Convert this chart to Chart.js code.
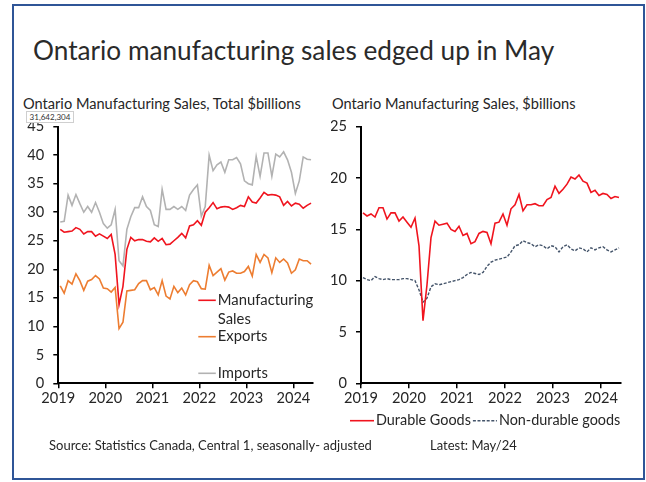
<!DOCTYPE html>
<html>
<head>
<meta charset="utf-8">
<title>Ontario manufacturing sales</title>
<script src="https://cdn.jsdelivr.net/npm/chart.js@4.4.1/dist/chart.umd.min.js"></script>
<style>
  html, body { margin: 0; padding: 0; background: #fff; }
  body { width: 646px; height: 482px; position: relative; overflow: hidden; font-family: Lato, sans-serif; color: #262626; }
  .frame { position: absolute; left: 12px; top: 4px; width: 629px; height: 472px; border: 2px solid #2f5597; }
  .txt { position: absolute; white-space: nowrap; line-height: 1; }
  #title { left: 33px; top: 36.8px; font-size: 26.2px; font-weight: 400; color: #2a2a2a; }
  .sub { top: 97.2px; font-size: 14.6px; }
  #valueTag { position: absolute; left: 26px; top: 111px; width: 46px; height: 10px; border: 1px solid #cfcfcf; background: #fff; font-size: 8px; line-height: 10px; text-align: center; color: #333; }
  .foot { top: 439.2px; font-size: 13px; }
  canvas { position: absolute; top: 0; }
  #leftChart { left: 0; }
  #rightChart { left: 323px; }
</style>
</head>
<body>
<div class="frame"></div>
<div id="title" class="txt">Ontario manufacturing sales edged up in May</div>
<div class="txt sub" style="left:23px">Ontario Manufacturing Sales, Total $billions</div>
<div class="txt sub" style="left:332px">Ontario Manufacturing Sales, $billions</div>
<canvas id="leftChart" width="323" height="482"></canvas>
<canvas id="rightChart" width="323" height="482"></canvas>
<div id="valueTag">31,642,304</div>
<div class="txt foot" style="left:49px">Source: Statistics Canada, Central 1, seasonally- adjusted</div>
<div class="txt foot" style="left:430px">Latest: May/24</div>

<script>
// Monthly, Jan 2019 - May 2024, $billions
const yearLabels = ['2019', '2020', '2021', '2022', '2023', '2024'];

const manufacturing = [
  27.0, 26.5, 26.6, 26.7, 27.3, 27.0, 26.2, 26.6, 26.6, 25.8, 26.2, 25.8,
  25.4, 26.1, 22.6, 13.8, 17.0, 23.5, 25.6, 25.0, 25.2, 25.2, 24.9, 24.8,
  25.5, 24.9, 25.4, 24.3, 24.4, 25.0, 25.6, 26.3, 25.5, 27.6, 27.8, 28.5,
  27.7, 30.0, 30.8, 31.7, 30.6, 30.9, 31.0, 30.9, 30.5, 30.8, 31.2, 31.0,
  32.7, 31.8, 31.6, 32.5, 33.5, 33.0, 33.1, 33.0, 32.7, 31.2, 31.9, 31.1,
  31.6, 31.4, 30.7, 31.2, 31.6
];
const exportSales = [
  17.1, 15.8, 18.0, 17.4, 19.2, 18.0, 16.3, 17.9, 18.2, 18.9, 18.3, 16.7,
  16.6, 16.0, 16.8, 9.6, 10.7, 16.2, 16.3, 16.4, 17.5, 18.0, 18.0, 16.4,
  16.8, 15.5, 18.0, 15.3, 14.8, 17.0, 15.9, 16.7, 15.5, 17.3, 18.0, 17.8,
  16.6, 16.5, 20.7, 18.9, 19.5, 20.1, 18.1, 19.5, 19.7, 19.3, 19.3, 19.6,
  20.5, 18.8, 22.6, 21.2, 22.6, 22.0, 19.4, 22.0, 21.2, 21.8, 21.1, 19.3,
  19.9, 21.8, 21.5, 21.5, 20.9
];
const importSales = [
  28.3, 28.4, 33.0, 31.2, 33.1, 31.5, 30.0, 31.0, 30.0, 31.7, 30.0, 28.0,
  27.2, 27.8, 30.5, 21.5, 20.6, 27.0, 29.2, 30.8, 30.8, 32.7, 31.0, 30.3,
  27.8, 27.5, 34.0, 30.5, 30.5, 31.0, 30.5, 31.0, 30.3, 33.0, 34.0, 34.8,
  29.3, 31.0, 40.0, 37.3, 38.3, 38.8, 37.0, 39.2, 39.2, 39.6, 38.5, 35.5,
  35.0, 34.8, 39.8, 36.3, 40.4, 40.4, 36.3, 40.2, 39.7, 40.6, 39.2, 37.0,
  33.3, 35.5, 39.7, 39.3, 39.2
];
const durableGoods = [
  16.6, 16.3, 16.5, 16.2, 17.1, 17.1, 16.0, 16.6, 16.6, 15.8, 16.2, 15.7,
  15.2, 16.1, 13.4, 6.1, 9.6, 14.2, 15.8, 15.4, 15.5, 15.6, 15.0, 14.8,
  15.3, 14.4, 14.6, 13.6, 13.8, 14.6, 14.8, 14.7, 13.6, 15.6, 15.7, 16.5,
  15.4, 17.0, 17.4, 18.4, 16.8, 17.4, 17.4, 17.5, 17.3, 17.3, 17.9, 18.1,
  19.2, 18.5, 18.9, 19.4, 20.1, 19.9, 20.3, 19.7, 19.5, 18.6, 18.8, 18.3,
  18.5, 18.4, 18.0, 18.2, 18.1
];
const nonDurableGoods = [
  10.3, 10.1, 10.0, 10.4, 10.2, 10.1, 10.2, 10.1, 10.1, 10.1, 10.2, 10.2,
  10.1, 10.0, 9.1, 7.9, 8.3, 9.4, 9.7, 9.6, 9.7, 9.8, 9.9, 10.0,
  10.1, 10.3, 10.6, 10.8, 10.7, 10.6, 10.8, 11.4, 11.8, 12.0, 12.1, 12.2,
  12.3, 12.8, 13.4, 13.5, 13.9, 13.7, 13.6, 13.3, 13.5, 13.4, 13.1, 13.4,
  13.3, 12.8, 13.3, 13.5, 13.1, 12.9, 13.2, 13.1, 12.8, 13.2, 13.0, 13.2,
  13.3, 13.0, 12.8, 13.0, 13.2
];

const TEXT = '#262626';
const FONT = 'Lato';
const TICK_SIZE = 14.6;

// monthly points sit mid-month on a month-index axis
const toPoints = arr => arr.map((v, i) => ({ x: i + 0.5, y: v }));

function lineSet(label, values, color, extra) {
  return Object.assign({
    label: label,
    data: toPoints(values),
    borderColor: color,
    backgroundColor: color,
    borderWidth: 1.6,
    pointRadius: 0,
    tension: 0,
    fill: false
  }, extra || {});
}

function yearAxis() {
  return {
    type: 'linear',
    min: 0,
    max: 65,
    afterBuildTicks: scale => {
      scale.ticks = yearLabels.map((_, i) => ({ value: i * 12 }));
    },
    afterFit: scale => { scale.height = 26; },
    ticks: {
      callback: v => yearLabels[v / 12],
      color: TEXT,
      font: { family: FONT, size: TICK_SIZE },
      padding: 1,
      maxRotation: 0,
      autoSkip: false
    },
    grid: { drawOnChartArea: false, tickLength: 5, tickColor: '#000', lineWidth: 1.5 },
    border: { color: '#000', width: 2 }
  };
}

function valueAxis(max, width) {
  return {
    min: 0,
    max: max,
    afterFit: scale => { scale.width = width; },
    ticks: {
      stepSize: 5,
      color: TEXT,
      font: { family: FONT, size: TICK_SIZE },
      padding: 9
    },
    grid: { drawOnChartArea: false, tickLength: 5, tickColor: '#000', lineWidth: 1.5 },
    border: { color: '#000', width: 2 }
  };
}

// Legend drawn by hand: stacked inside the plot on the left, one row under the plot on the right
const handLegend = {
  id: 'handLegend',
  afterDraw(chart, args, opts) {
    const { ctx, chartArea } = chart;
    ctx.save();
    ctx.font = opts.fontSize + 'px ' + FONT;
    ctx.fillStyle = TEXT;
    ctx.textBaseline = 'middle';
    let x = chartArea.left + opts.x;
    opts.items.forEach(item => {
      const ds = chart.data.datasets[item.dataset];
      const y = chartArea.bottom + item.dy;
      const x0 = opts.row ? x : chartArea.left + opts.x;
      ctx.strokeStyle = ds.borderColor;
      ctx.lineWidth = ds.borderWidth;
      ctx.setLineDash(ds.borderDash || []);
      ctx.beginPath();
      ctx.moveTo(x0, y);
      ctx.lineTo(x0 + opts.lineLen, y);
      ctx.stroke();
      ctx.setLineDash([]);
      const tx = x0 + opts.lineLen + 2;
      const lines = item.lines || [ds.label];
      lines.forEach((t, k) => ctx.fillText(t, tx, y + k * opts.lineHeight));
      if (opts.row) x = tx + ctx.measureText(lines[0]).width + opts.itemGap;
    });
    ctx.restore();
  }
};

new Chart(document.getElementById('leftChart'), {
  type: 'line',
  data: {
    datasets: [
      lineSet('Manufacturing Sales', manufacturing, '#f0141e'),
      lineSet('Exports', exportSales, '#ed7d31'),
      lineSet('Imports', importSales, '#b2b2b2')
    ]
  },
  options: {
    responsive: false,
    devicePixelRatio: 1,
    animation: false,
    layout: { padding: { left: 18.3, right: 10, top: 126.7, bottom: 72.7 } },
    scales: { x: yearAxis(), y: valueAxis(45, 40) },
    plugins: {
      legend: { display: false },
      tooltip: { enabled: false },
      handLegend: {
        x: 140,
        lineLen: 17.5,
        lineHeight: 18.5,
        fontSize: 14.8,
        items: [
          { dataset: 0, lines: ['Manufacturing', 'Sales'], dy: -83 },
          { dataset: 1, dy: -46.6 },
          { dataset: 2, dy: -10 }
        ]
      }
    }
  },
  plugins: [handLegend]
});

new Chart(document.getElementById('rightChart'), {
  type: 'line',
  data: {
    datasets: [
      lineSet('Durable Goods', durableGoods, '#f0141e'),
      lineSet('Non-durable goods', nonDurableGoods, '#44546a', { borderDash: [3, 1.6], borderWidth: 1.4 })
    ]
  },
  options: {
    responsive: false,
    devicePixelRatio: 1,
    animation: false,
    layout: { padding: { left: 8, right: 25, top: 126.7, bottom: 72.7 } },
    scales: { x: yearAxis(), y: valueAxis(25, 30) },
    plugins: {
      legend: { display: false },
      tooltip: { enabled: false },
      handLegend: {
        row: true,
        x: -11,
        lineLen: 24,
        itemGap: 2,
        fontSize: 14.4,
        lineHeight: 18.5,
        items: [
          { dataset: 0, dy: 37.4 },
          { dataset: 1, dy: 37.4 }
        ]
      }
    }
  },
  plugins: [handLegend]
});
</script>
</body>
</html>
